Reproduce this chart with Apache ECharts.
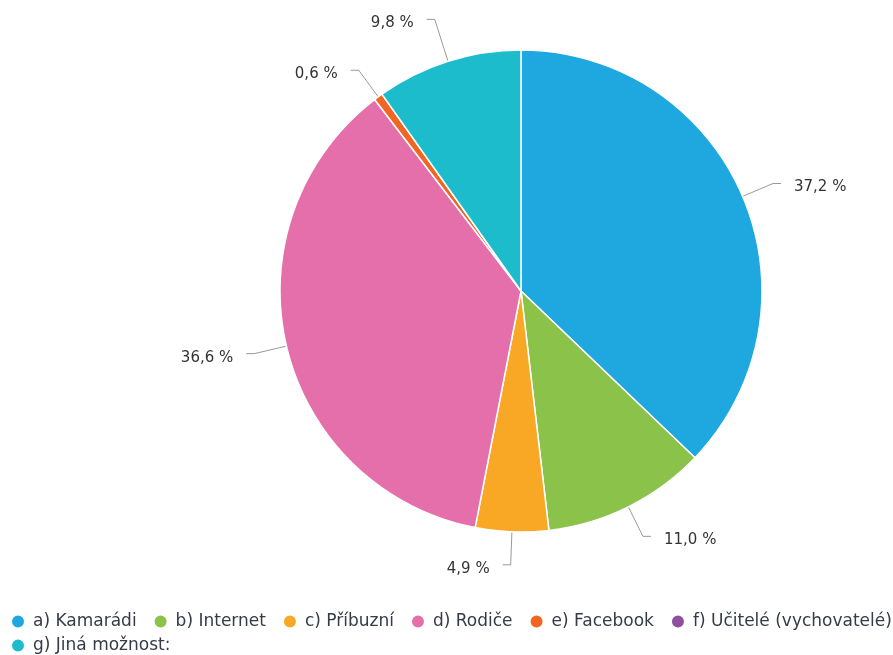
<!DOCTYPE html>
<html>
<head>
<meta charset="utf-8">
<script src="https://cdn.jsdelivr.net/npm/echarts@6/dist/echarts.min.js"></script>
<style>
  html, body { margin: 0; padding: 0; background: #fff; }
  #chart { width: 893px; height: 655px; }
</style>
</head>
<body>
<div id="chart"></div>
<script>
// categories + percent values
const categories = ['a) Kamarádi', 'b) Internet', 'c) Příbuzní', 'd) Rodiče', 'e) Facebook', 'f) Učitelé (vychovatelé)', 'g) Jiná možnost:']
const values = [37.2, 11.0, 4.9, 36.6, 0.6, 0.0, 9.8]
const colors = ['#1fa8df', '#8bc34a', '#f9a825', '#e46faa', '#f26522', '#8e4fa0', '#1cbccd']

const chart = echarts.init(document.getElementById('chart'))

const pieData = categories.map((name, i) => {
  const item = {
    name: name,
    value: values[i],
    label: { show: values[i] > 0 },
    labelLine: { show: values[i] > 0 }
  }
  // the 9,8 % label sits higher, with a longer leader
  if (i === 6) item.labelLine.length = 44
  return item
})

// legend is split in two rows by hand, the wrap gap of one legend is too big
const legendBase = {
  left: 10,
  width: 900,
  padding: 0,
  icon: 'circle',
  itemWidth: 20,
  itemHeight: 14,
  itemGap: 16,
  textStyle: { fontSize: 17, color: '#343c48', fontFamily: 'DejaVu Sans' }
}

const option = {
  color: colors,
  textStyle: { fontFamily: 'DejaVu Sans, sans-serif' },
  legend: [
    Object.assign({}, legendBase, { top: 613, data: categories.slice(0, 6) }),
    Object.assign({}, legendBase, { top: 637, data: categories.slice(6) })
  ],
  series: [
    {
      type: 'pie',
      center: [521, 291],
      radius: [0, 241],
      startAngle: 90,
      clockwise: true,
      avoidLabelOverlap: true,
      itemStyle: { borderColor: '#fff', borderWidth: 1.5 },
      label: {
        color: '#333',
        fontSize: 15,
        distanceToLabelLine: 13,
        formatter: p => '{v|' + p.value.toFixed(1).replace('.', ',') + ' %}',
        rich: {
          v: { color: '#333', fontSize: 15, padding: [8, 0, 0, 0] }
        }
      },
      labelLine: {
        length: 33,
        length2: 8,
        lineStyle: { color: '#999', width: 1 }
      },
      emphasis: { disabled: true },
      data: pieData
    }
  ]
}

chart.setOption(option)
</script>
</body>
</html>
